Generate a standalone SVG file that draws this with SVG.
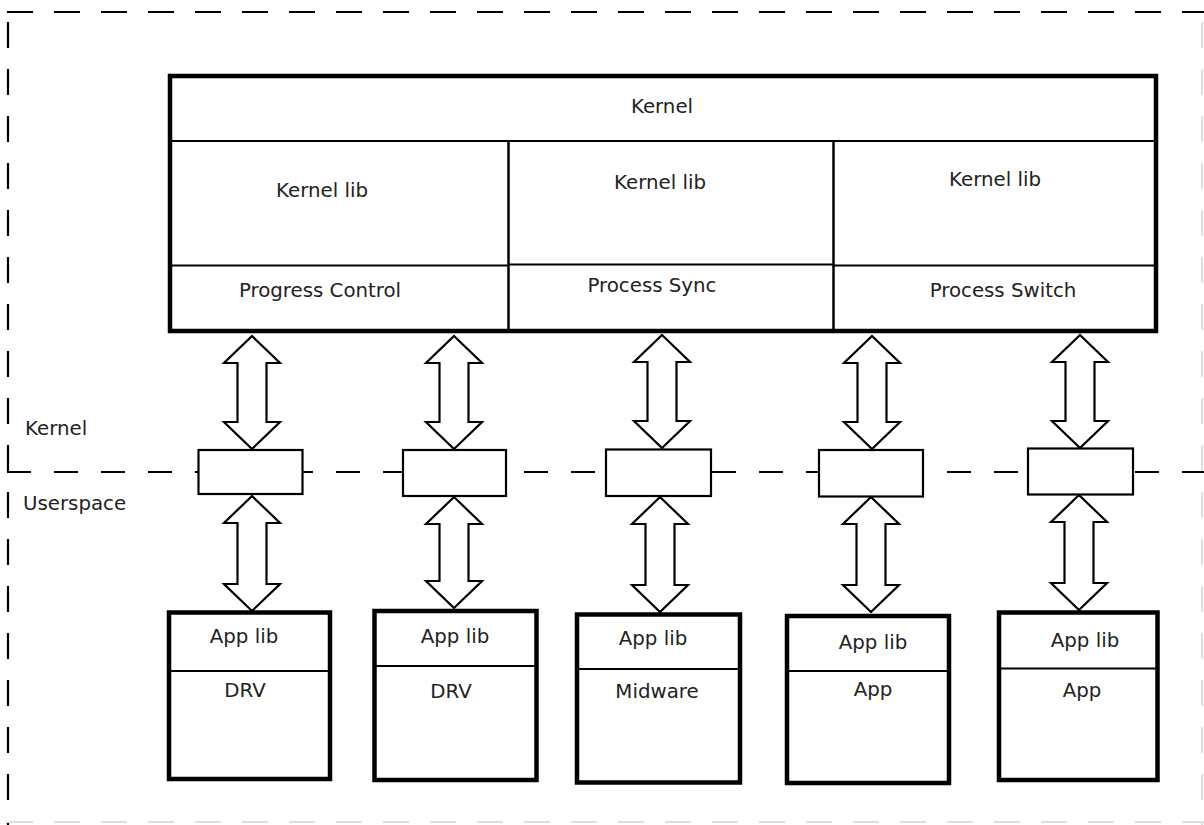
<svg xmlns="http://www.w3.org/2000/svg" width="1204" height="825" viewBox="0 0 1204 825">
  <style>
    .bg { fill: #ffffff; }
    .sep { fill: none; stroke: #000; stroke-width: 2.2; stroke-dasharray: 26 21; }
    .sep-faint { fill: none; stroke: #dedede; stroke-width: 2; stroke-dasharray: 26 21; }
    .frame { fill: #fff; stroke: #000; stroke-width: 4.5; }
    .rule { fill: none; stroke: #000; stroke-width: 2; }
    .gate { fill: #fff; stroke: #000; stroke-width: 2.2; }
    .arrow { fill: #fff; stroke: #000; stroke-width: 2.2; stroke-linejoin: miter; }
    text { font-family: "DejaVu Sans", "Liberation Sans", sans-serif; font-size: 19.8px; fill: #222; text-anchor: middle; }
    .side { text-anchor: start; }
  </style>

  <rect class="bg" x="0" y="0" width="1204" height="825"/>

  <!-- outer boundary and kernel/userspace separator -->
  <g id="boundaries">
    <line class="sep" x1="7" y1="12" x2="1204" y2="12"/>
    <line class="sep" x1="8" y1="22" x2="8" y2="825"/>
    <line class="sep" x1="7" y1="472" x2="1204" y2="472" style="stroke-dasharray:24 23"/>
    <line class="sep-faint" x1="1202" y1="22" x2="1202" y2="825"/>
    <line class="sep-faint" x1="7" y1="822" x2="1204" y2="822"/>
  </g>

  <g id="label-kernel"><text class="side" x="25" y="435">Kernel</text></g>
  <g id="label-userspace"><text class="side" x="23" y="510">Userspace</text></g>

  <!-- kernel block -->
  <g id="kernel">
    <rect class="frame" x="170" y="76" width="986" height="255"/>
    <line class="rule" x1="170" y1="141" x2="1156" y2="141"/>
    <line class="rule" x1="508.5" y1="141" x2="508.5" y2="331" style="stroke-width:2.5"/>
    <line class="rule" x1="833.5" y1="141" x2="833.5" y2="331" style="stroke-width:2.5"/>
    <line class="rule" x1="170" y1="265.5" x2="508.5" y2="265.5"/>
    <line class="rule" x1="508.5" y1="264.5" x2="833.5" y2="264.5"/>
    <line class="rule" x1="833.5" y1="265.5" x2="1156" y2="265.5"/>
    <text x="662" y="113">Kernel</text>
  </g>
  <g id="kernel-lib-1"><text x="322" y="197">Kernel lib</text></g>
  <g id="kernel-lib-2"><text x="660" y="189">Kernel lib</text></g>
  <g id="kernel-lib-3"><text x="995" y="186">Kernel lib</text></g>
  <g id="progress-control"><text x="320" y="297">Progress Control</text></g>
  <g id="process-sync"><text x="652" y="292">Process Sync</text></g>
  <g id="process-switch"><text x="1003" y="297">Process Switch</text></g>

  <!-- system call gates on the separator -->
  <g id="gate-1"><rect class="gate" x="198.5" y="450" width="104" height="44"/></g>
  <g id="gate-2"><rect class="gate" x="403" y="450" width="103" height="46"/></g>
  <g id="gate-3"><rect class="gate" x="606" y="449.5" width="105" height="46.5"/></g>
  <g id="gate-4"><rect class="gate" x="819" y="450" width="104" height="46.5"/></g>
  <g id="gate-5"><rect class="gate" x="1028" y="448.5" width="105" height="46"/></g>

  <!-- userspace components -->
  <g id="drv-1">
    <rect class="frame" x="169" y="612.5" width="161" height="166.5"/>
    <line class="rule" x1="169" y1="671" x2="330" y2="671"/>
    <text x="244" y="643">App lib</text>
    <text x="245" y="697">DRV</text>
  </g>
  <g id="drv-2">
    <rect class="frame" x="374.5" y="611" width="162" height="169"/>
    <line class="rule" x1="374.5" y1="666" x2="536.5" y2="666"/>
    <text x="455" y="643">App lib</text>
    <text x="451" y="698">DRV</text>
  </g>
  <g id="midware">
    <rect class="frame" x="577" y="614.5" width="163" height="168"/>
    <line class="rule" x1="577" y1="669" x2="740" y2="669"/>
    <text x="653" y="645">App lib</text>
    <text x="657" y="698">Midware</text>
  </g>
  <g id="app-1">
    <rect class="frame" x="787" y="616" width="162" height="167"/>
    <line class="rule" x1="787" y1="671" x2="949" y2="671"/>
    <text x="873" y="649">App lib</text>
    <text x="873" y="696">App</text>
  </g>
  <g id="app-2">
    <rect class="frame" x="999" y="612.5" width="158.5" height="167.5"/>
    <line class="rule" x1="999" y1="668.5" x2="1157.5" y2="668.5"/>
    <text x="1085" y="647">App lib</text>
    <text x="1082" y="697">App</text>
  </g>

  <!-- double-headed block arrows -->
  <g id="connectors">
    <polygon class="arrow" points="252,336 280,363 266.5,363 266.5,422 280,422 252,449 224,422 237.5,422 237.5,363 224,363"/>
    <polygon class="arrow" points="252,496 280,523 266.5,523 266.5,584 280,584 252,611 224,584 237.5,584 237.5,523 224,523"/>
    <polygon class="arrow" points="454,336 482,363 468.5,363 468.5,422 482,422 454,449 426,422 439.5,422 439.5,363 426,363"/>
    <polygon class="arrow" points="454,497 482,524 468.5,524 468.5,581 482,581 454,608 426,581 439.5,581 439.5,524 426,524"/>
    <polygon class="arrow" points="662,335 690,362 676.5,362 676.5,421 690,421 662,448 634,421 647.5,421 647.5,362 634,362"/>
    <polygon class="arrow" points="660,497 688,524 674.5,524 674.5,585 688,585 660,612 632,585 645.5,585 645.5,524 632,524"/>
    <polygon class="arrow" points="872,336 900,363 886.5,363 886.5,422 900,422 872,449 844,422 857.5,422 857.5,363 844,363"/>
    <polygon class="arrow" points="871,497 899,524 885.5,524 885.5,585 899,585 871,612 843,585 856.5,585 856.5,524 843,524"/>
    <polygon class="arrow" points="1080,335 1108,362 1094.5,362 1094.5,421 1108,421 1080,448 1052,421 1065.5,421 1065.5,362 1052,362"/>
    <polygon class="arrow" points="1079,495 1107,522 1093.5,522 1093.5,583 1107,583 1079,610 1051,583 1064.5,583 1064.5,522 1051,522"/>
  </g>
</svg>
